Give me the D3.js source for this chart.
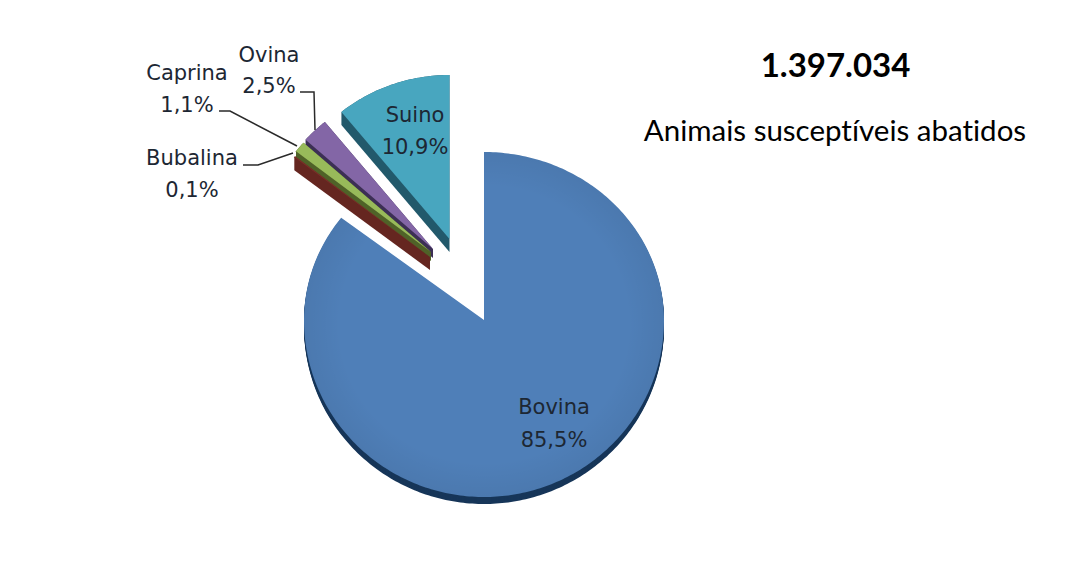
<!DOCTYPE html>
<html lang="pt">
<head>
<meta charset="utf-8">
<script src="https://cdn.jsdelivr.net/npm/d3@7"></script>
<style>
  html, body { margin: 0; background: #fff; }
  text { font-family: "DejaVu Sans", sans-serif; fill: #1d2733; }
  .headline text { font-family: Lato, "Open Sans", sans-serif; fill: #000; font-variant-ligatures: none; }
</style>
</head>
<body>
<svg id="chart" width="1073" height="569"></svg>
<script>
// Species shares of animals slaughtered, clockwise from twelve o'clock
const species = ["Bovina", "Bubalina", "Caprina", "Ovina", "Suino"];
const shares = [85.5, 0.1, 1.1, 2.5, 10.9];
const shareLabels = ["85,5%", "0,1%", "1,1%", "2,5%", "10,9%"];
const faceColors = ["#4f7fb8", "#7a2f28", "#98ba5a", "#8366a6", "#48a6bf"];
const sideColors = ["#173659", "#652620", "#4f6228", "#3c2f55", "#22596b"];
const totalLabel = "1.397.034";
const totalCaption = "Animais susceptíveis abatidos";

// Layout of the tilted, exploded pie
const hub = { x: 484, y: 320 };
const mainRadii = { x: 180, up: 168, down: 177 };
const sliceRadii = { x: 171, up: 164, down: 168 };
const sliceShift = [[0, 0], [-54, -63], [-53, -68], [-51, -71], [-34.5, -81]];
const sliceDepth = [7, 13, 9, 9, 13];

const svg = d3.select("#chart");
const pie = d3.pie().sort(null).value(d => d)(shares);

// Points of one slice on the tilted disc: the hub, then the rim sampled by angle
function outline(slice, i) {
  const radii = i === 0 ? mainRadii : sliceRadii;
  const [dx, dy] = sliceShift[i];
  const steps = Math.max(4, Math.ceil((slice.endAngle - slice.startAngle) * 60));
  const angles = d3.range(steps + 1).map(s =>
    slice.startAngle + (slice.endAngle - slice.startAngle) * s / steps);
  const rim = angles.map(a => {
    const c = Math.cos(a);
    return [hub.x + dx + radii.x * Math.sin(a),
            hub.y + dy - (c > 0 ? radii.up : radii.down) * c];
  });
  return [[hub.x + dx, hub.y + dy], ...rim];
}

const line = d3.line().curve(d3.curveLinearClosed);

const shade = svg.append("defs").append("radialGradient")
  .attr("id", "rimShade").attr("cx", "50%").attr("cy", "50%").attr("r", "50%");
shade.append("stop").attr("offset", "0.8").attr("stop-color", "#000").attr("stop-opacity", 0);
shade.append("stop").attr("offset", "1").attr("stop-color", "#000").attr("stop-opacity", 0.05);

// Slices, back to front; each side wall is the face swept down through its depth
const order = [4, 3, 2, 1, 0];
const slices = svg.append("g").selectAll("g")
  .data(order.map(i => ({ slice: pie[i], i })))
  .join("g");

slices.each(function ({ slice, i }) {
  const g = d3.select(this);
  const pts = outline(slice, i);
  const lowered = pts.map(([x, y]) => [x, y + sliceDepth[i]]);
  if (i === 0) {
    // The large slice is not convex, so its wall is stacked from shifted copies
    d3.range(sliceDepth[i], 0, -1).forEach(k => {
      g.append("path")
        .attr("d", line(pts.map(([x, y]) => [x, y + k])))
        .attr("fill", sideColors[i]);
    });
  } else {
    g.append("path")
      .attr("d", line(d3.polygonHull([...pts, ...lowered])))
      .attr("fill", sideColors[i]);
  }
  g.append("path").attr("d", line(pts)).attr("fill", faceColors[i]);
  if (i === 0) g.append("path").attr("d", line(pts)).attr("fill", "url(#rimShade)");
});

// Labels with their species name above the share
const labelSpots = [[554, 414, 447], [192, 165, 197], [187, 80, 112], [269, 62, 93], [415, 122, 154]];
const labels = svg.append("g").attr("font-size", 21).attr("text-anchor", "middle");
species.forEach((name, i) => {
  const [x, y1, y2] = labelSpots[i];
  labels.append("text").attr("x", x).attr("y", y1).text(name);
  labels.append("text").attr("x", x).attr("y", y2).text(shareLabels[i]);
});

// Leader lines from the small slices to their labels
const leaders = [
  [[243, 165], [258, 165], [293, 153]],
  [[219, 111], [230, 111], [297, 146]],
  [[300, 92], [314, 92], [315, 130]]
];
svg.append("g").selectAll("path").data(leaders).join("path")
  .attr("d", d3.line())
  .attr("fill", "none").attr("stroke", "#2a2a2a").attr("stroke-width", 1.5);

// Total and caption on the right
const headline = svg.append("g").attr("class", "headline").attr("text-anchor", "middle");
headline.append("text").attr("x", 835.5).attr("y", 77)
  .attr("font-size", 33).attr("font-weight", 700).text(totalLabel);
headline.append("text").attr("x", 835).attr("y", 141)
  .attr("font-size", 29.5).text(totalCaption);
</script>
</body>
</html>
